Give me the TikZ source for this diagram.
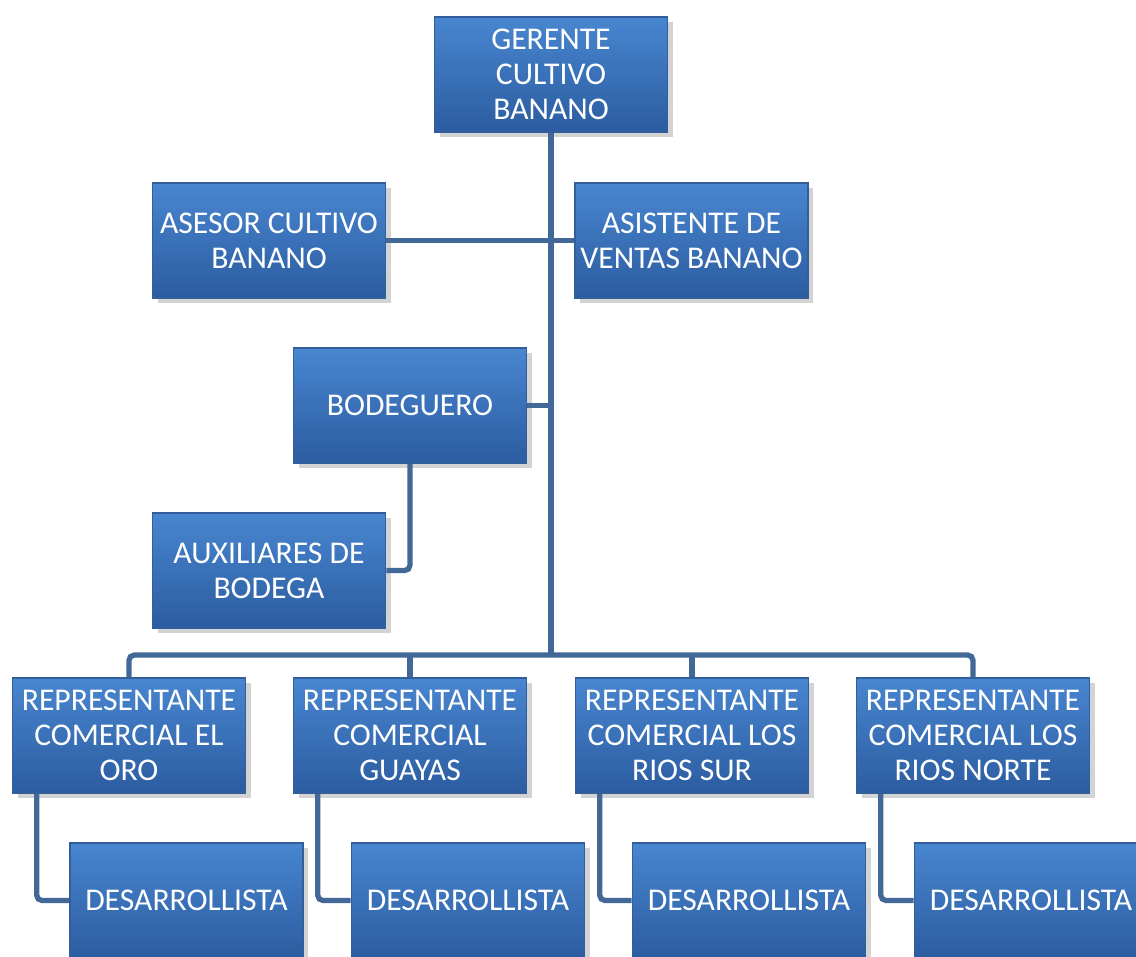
\documentclass[tikz,border=0pt]{standalone}
\usepackage{fontspec}
\setmainfont{Carlito}
\usetikzlibrary{calc,positioning,shadows}
\definecolor{cajaarriba}{RGB}{72,134,208}
\definecolor{cajaabajo}{RGB}{44,92,160}
\definecolor{cajaborde}{RGB}{50,95,155}
\definecolor{lineaazul}{RGB}{66,104,152}

\begin{document}
\begin{tikzpicture}[x=0.01cm,y=-0.01cm,
  cargo/.style={rectangle, draw=cajaborde, line width=0.4pt,
    top color=cajaarriba, bottom color=cajaabajo,
    minimum width=2.33cm, minimum height=1.15cm,
    align=center, inner sep=0pt, text=white,
    font=\fontsize{9}{9.9}\selectfont,
    drop shadow={opacity=0.35, shadow xshift=1.5pt, shadow yshift=-1.5pt}},
  linea/.style={draw=lineaazul, line width=1.5pt, rounded corners=1.5pt}]
\clip (0,0) rectangle (1136,956);
\useasboundingbox (0,0) rectangle (1136,956);

\node[cargo] (gerente) at (551,74.5) {GERENTE\\CULTIVO\\BANANO};
\node[cargo] (asesor) at (269,240.5) {ASESOR CULTIVO\\BANANO};
\node[cargo] (asistente) at (691.5,240.5) {ASISTENTE DE\\VENTAS BANANO};
\node[cargo] (bodeguero) at (410,405.5) {BODEGUERO};
\node[cargo] (auxiliares) at (269,570.5) {AUXILIARES DE\\BODEGA};

\node[cargo] (rep1) at (129,735.5) {REPRESENTANTE\\COMERCIAL EL\\ORO};
\node[cargo] (rep2) at (410,735.5) {REPRESENTANTE\\COMERCIAL\\GUAYAS};
\node[cargo] (rep3) at (692,735.5) {REPRESENTANTE\\COMERCIAL LOS\\RIOS SUR};
\node[cargo] (rep4) at (973,735.5) {REPRESENTANTE\\COMERCIAL LOS\\RIOS NORTE};

\node[cargo] (des1) at (186.5,900.5) {DESARROLLISTA};
\node[cargo] (des2) at (468,900.5) {DESARROLLISTA};
\node[cargo] (des3) at (749,900.5) {DESARROLLISTA};
\node[cargo] (des4) at (1031,900.5) {DESARROLLISTA};

\coordinate (bus) at (551,655);

% tronco y ramas
\draw[linea] (gerente.south) -- (bus);
\draw[linea] (asesor.east) -- (asistente.west);
\draw[linea] (bodeguero.east) -- (bodeguero.east -| gerente.south);
\draw[linea] (bodeguero.south) |- (auxiliares.east);
\draw[linea] (rep1.north) |- (bus) -| (rep4.north);
\draw[linea] (rep2.north) -- (rep2.north |- bus);
\draw[linea] (rep3.north) -- (rep3.north |- bus);

% representantes a desarrollistas
\draw[linea] ($(rep1.south west)+(25,0)$) |- (des1.west);
\draw[linea] ($(rep2.south west)+(25,0)$) |- (des2.west);
\draw[linea] ($(rep3.south west)+(25,0)$) |- (des3.west);
\draw[linea] ($(rep4.south west)+(25,0)$) |- (des4.west);
\end{tikzpicture}
\end{document}
